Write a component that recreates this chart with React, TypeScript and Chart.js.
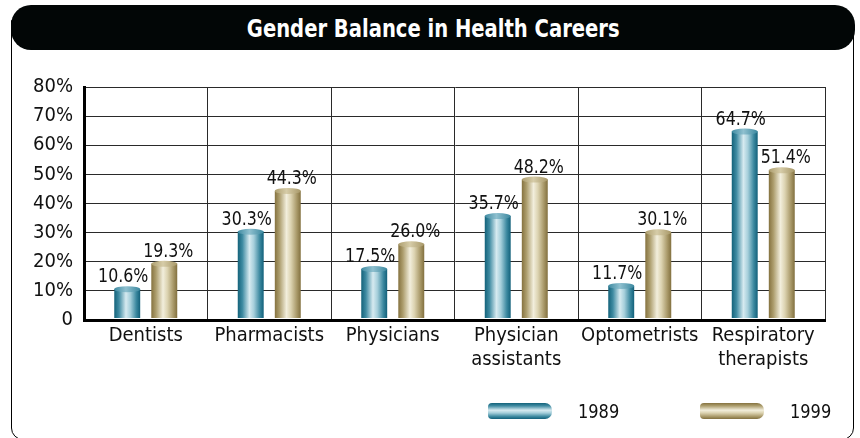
import React, { useEffect, useRef } from "react";
import { Chart, registerables } from "chart.js";

Chart.register(...registerables);

const categories: (string | string[])[] = [
  "Dentists",
  "Pharmacists",
  "Physicians",
  ["Physician", "assistants"],
  "Optometrists",
  ["Respiratory", "therapists"],
];
const values1989 = [10.6, 30.3, 17.5, 35.7, 11.7, 64.7];
const values1999 = [19.3, 44.3, 26.0, 48.2, 30.1, 51.4];
const seriesLabels = ["1989", "1999"];
const yTicks = [0, 10, 20, 30, 40, 50, 60, 70, 80];
const title = "Gender Balance in Health Careers";

const FONT = "'DejaVu Sans Condensed', 'Liberation Sans Narrow', sans-serif";

const palettes = [
  {
    stops: [
      [0, "#13627a"],
      [0.18, "#3f8ba2"],
      [0.45, "#d6eaf0"],
      [0.62, "#a6cfdb"],
      [0.85, "#3b889f"],
      [1, "#12607a"],
    ],
    cap: "#8fc0cf",
  },
  {
    stops: [
      [0, "#85723f"],
      [0.18, "#ad9e6e"],
      [0.45, "#f2eedc"],
      [0.62, "#dcd3b1"],
      [0.85, "#a89868"],
      [1, "#82703f"],
    ],
    cap: "#d6cca8",
  },
];

const cylinderPlugin = {
  id: "cylinders",
  afterDatasetsDraw(chart: any) {
    const ctx = chart.ctx;
    chart.data.datasets.forEach((ds: any, di: number) => {
      const meta = chart.getDatasetMeta(di);
      const pal = palettes[di];
      meta.data.forEach((el: any, i: number) => {
        const { x, y, base, width } = el.getProps(["x", "y", "base", "width"], true);
        const l = x - width / 2;
        const g = ctx.createLinearGradient(l, 0, l + width, 0);
        pal.stops.forEach((s: any) => g.addColorStop(s[0], s[1]));
        ctx.save();
        ctx.fillStyle = g;
        ctx.beginPath();
        ctx.moveTo(l, y);
        ctx.lineTo(l, base - 1.5);
        ctx.lineTo(l + width, base - 1.5);
        ctx.lineTo(l + width, y);
        ctx.closePath();
        ctx.fill();
        // top cap
        const cg = ctx.createLinearGradient(l, 0, l + width, 0);
        cg.addColorStop(0, pal.stops[1][1] as string);
        cg.addColorStop(0.45, pal.cap);
        cg.addColorStop(1, pal.stops[4][1] as string);
        ctx.fillStyle = cg;
        ctx.beginPath();
        ctx.ellipse(x, y, width / 2, 3, 0, 0, Math.PI * 2);
        ctx.fill();
        // label
        const v = ds.data[i];
        ctx.fillStyle = "#111";
        ctx.font = `20px ${FONT}`;
        ctx.textAlign = "center";
        ctx.textBaseline = "alphabetic";
        ctx.translate(x + (di === 0 ? -4 : 4), y - 7);
        ctx.scale(0.88, 1);
        ctx.fillText(v.toFixed(1) + "%", 0, 0);
        ctx.restore();
      });
    });
  },
};

function LegendItem({ idx, left, textLeft }: { idx: number; left: number; textLeft: number }) {
  const pal = palettes[idx];
  const grad = `linear-gradient(to bottom, ${pal.stops
    .map((s) => `${s[1]} ${(s[0] as number) * 100}%`)
    .join(", ")})`;
  return (
    <>
      <div
        style={{
          position: "absolute",
          left,
          top: 403,
          width: 64,
          height: 16,
          borderRadius: "4px 7px 7px 4px",
          background: grad,
        }}
      />
      <div
        style={{
          position: "absolute",
          left: textLeft,
          top: 399,
          fontFamily: FONT,
          fontSize: 20,
          color: "#111",
          lineHeight: "24px",
          transform: "scaleX(0.9)",
          transformOrigin: "left center",
        }}
      >
        {seriesLabels[idx]}
      </div>
    </>
  );
}

export default function App() {
  const ref = useRef<HTMLCanvasElement>(null);
  useEffect(() => {
    if (!ref.current) return;
    const chart = new Chart(ref.current, {
      type: "bar",
      data: {
        labels: categories as any,
        datasets: [
          { label: seriesLabels[0], data: values1989, backgroundColor: "rgba(0,0,0,0)" },
          { label: seriesLabels[1], data: values1999, backgroundColor: "rgba(0,0,0,0)" },
        ],
      },
      options: {
        animation: false,
        responsive: false,
        maintainAspectRatio: false,
        devicePixelRatio: 1,
        layout: { padding: { left: 0, right: 35, top: 87, bottom: 0 } },
        datasets: { bar: { categoryPercentage: 0.6, barPercentage: 0.7 } },
        plugins: { legend: { display: false }, tooltip: { enabled: false }, title: { display: false } },
        scales: {
          x: {
            grid: { offset: true, color: "#2a2a2a", lineWidth: 1, drawTicks: false },
            border: { display: true, color: "#000", width: 3 },
            ticks: {
              color: "#111",
              font: { family: FONT, size: 20, lineHeight: 1.2 },
              padding: 4,
              maxRotation: 0,
              autoSkip: false,
            },
            afterFit: (s: any) => {
              s.height = 118;
            },
          },
          y: {
            min: 0,
            max: 80,
            afterBuildTicks: (s: any) => {
              s.ticks = yTicks.map((v) => ({ value: v }));
            },
            grid: { color: "#2a2a2a", lineWidth: 1, drawTicks: false },
            border: { display: true, color: "#000", width: 3 },
            ticks: {
              color: "#111",
              font: { family: FONT, size: 20 },
              padding: 11,
              callback: (v: any) => (v === 0 ? "0" : v + "%"),
            },
            afterFit: (s: any) => {
              s.width = 84;
            },
          },
        },
      },
      plugins: [cylinderPlugin],
    });
    return () => chart.destroy();
  }, []);

  return (
    <div
      style={{
        position: "fixed",
        left: 0,
        top: 0,
        width: 860,
        height: 438,
        background: "#fff",
        overflow: "hidden",
      }}
    >
      <div
        style={{
          position: "absolute",
          left: 11,
          top: 20,
          width: 841,
          height: 418,
          border: "1.5px solid #000",
          borderRadius: "0 0 12px 12px",
        }}
      />
      <div
        style={{
          position: "absolute",
          left: 11,
          top: 5,
          width: 844,
          height: 45,
          background: "#020606",
          borderRadius: 20,
          color: "#fff",
          fontFamily: FONT,
          fontWeight: "bold",
          fontSize: 25,
          lineHeight: "47px",
          textAlign: "center",
        }}
      >
        <span style={{ display: "inline-block", transform: "scaleX(0.87)" }}>{title}</span>
      </div>
      <canvas
        ref={ref}
        width={860}
        height={438}
        style={{ position: "absolute", left: 0, top: 0, width: 860, height: 438 }}
      />
      <LegendItem idx={0} left={488} textLeft={578} />
      <LegendItem idx={1} left={700} textLeft={790} />
    </div>
  );
}
